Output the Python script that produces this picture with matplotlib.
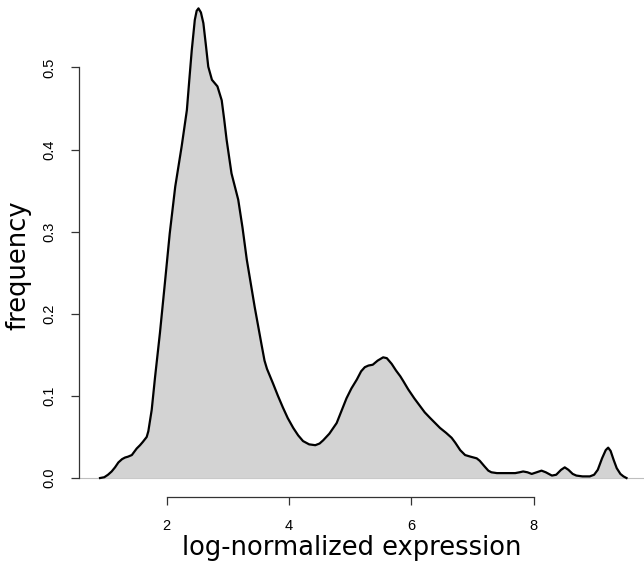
import matplotlib.pyplot as plt

# density curve (x = log-normalized expression, y = density)
xs = [0.91, 0.98, 1.04, 1.10, 1.155, 1.21, 1.27, 1.32, 1.367, 1.43, 1.47, 1.51, 1.564,
      1.61, 1.673, 1.70, 1.755, 1.81, 1.85, 1.89, 1.97, 2.05, 2.14, 2.245, 2.33, 2.37,
      2.41, 2.46, 2.49, 2.52, 2.56, 2.60, 2.64, 2.68, 2.74, 2.83, 2.90, 2.94, 2.98,
      3.06, 3.17, 3.24, 3.31, 3.44, 3.55, 3.60, 3.64, 3.69, 3.74, 3.82, 3.90, 3.98,
      4.07, 4.15, 4.23, 4.33, 4.43, 4.50, 4.56, 4.66, 4.78, 4.86, 4.94, 5.02, 5.11,
      5.18, 5.24, 5.30, 5.37, 5.45, 5.54, 5.60, 5.68, 5.75, 5.82, 5.87, 5.95, 6.05,
      6.14, 6.22, 6.31, 6.39, 6.47, 6.57, 6.66, 6.72, 6.80, 6.88, 6.97, 7.07, 7.12,
      7.20, 7.26, 7.31, 7.40, 7.50, 7.60, 7.70, 7.77, 7.83, 7.90, 7.97, 8.05, 8.13,
      8.20, 8.30, 8.37, 8.45, 8.51, 8.57, 8.64, 8.70, 8.80, 8.92, 8.99, 9.05, 9.12,
      9.18, 9.22, 9.26, 9.31, 9.36, 9.42, 9.47, 9.52]
ys = [0.0, 0.001, 0.004, 0.008, 0.013, 0.019, 0.023, 0.025, 0.026, 0.028, 0.032, 0.036,
      0.040, 0.044, 0.050, 0.057, 0.083, 0.123, 0.150, 0.177, 0.237, 0.298, 0.355,
      0.404, 0.448, 0.485, 0.521, 0.558, 0.569, 0.572, 0.567, 0.554, 0.528, 0.501,
      0.485, 0.477, 0.460, 0.437, 0.412, 0.371, 0.339, 0.305, 0.266, 0.208, 0.163,
      0.143, 0.133, 0.124, 0.115, 0.100, 0.086, 0.073, 0.061, 0.052, 0.045, 0.041,
      0.040, 0.042, 0.046, 0.054, 0.067, 0.082, 0.097, 0.109, 0.120, 0.130, 0.135,
      0.137, 0.138, 0.143, 0.147, 0.146, 0.139, 0.131, 0.124, 0.118, 0.108, 0.097,
      0.088, 0.080, 0.073, 0.067, 0.061, 0.055, 0.049, 0.043, 0.034, 0.028, 0.026,
      0.024, 0.021, 0.014, 0.009, 0.007, 0.006, 0.006, 0.006, 0.006, 0.007, 0.008,
      0.007, 0.005, 0.007, 0.009, 0.007, 0.003, 0.004, 0.010, 0.013, 0.010, 0.005,
      0.003, 0.002, 0.002, 0.004, 0.010, 0.024, 0.034, 0.037, 0.033, 0.022, 0.012,
      0.005, 0.002, 0.0]

xticks = [2, 4, 6, 8]
yticks = [0.0, 0.1, 0.2, 0.3, 0.4, 0.5]

W, H = 644, 564
fig = plt.figure(figsize=(W / 100, H / 100), dpi=100)
ax = fig.add_axes([79 / W, (H - 497) / H, 565 / W, 497 / H])

ax.axhline(0, color='#bebebe', lw=0.8, zorder=1)
ax.fill_between(xs, ys, 0, color='#d3d3d3', lw=0, zorder=2)
ax.plot(xs, ys, color='black', lw=1.6, zorder=3, solid_joinstyle='round')

ax.set_xlim(0.566, 9.806)
ax.set_ylim(-0.0231, 0.5822)

for s in ['top', 'right']:
    ax.spines[s].set_visible(False)
ax.spines['left'].set_bounds(0, 0.5)
ax.spines['bottom'].set_bounds(2, 8)
for s in ['left', 'bottom']:
    ax.spines[s].set_color('#333333')
    ax.spines[s].set_linewidth(0.9)

ax.set_xticks(xticks)
ax.set_xticklabels([str(t) for t in xticks], fontfamily='Liberation Sans', fontsize=10.5)
ax.set_yticks(yticks)
ax.set_yticklabels(['%.1f' % t for t in yticks], fontfamily='Liberation Sans',
                   fontsize=10.5, rotation=90, va='center')
ax.tick_params(length=6, width=0.9, color='#333333', pad=10)

fig.text(352 / W, 1 - 548 / H, 'log-normalized expression', ha='center', va='center',
         fontsize=18.5, fontfamily='DejaVu Sans')
fig.text(18 / W, 1 - 265 / H, 'frequency', ha='center', va='center', rotation=90,
         fontsize=18.5, fontfamily='DejaVu Sans')

fig.savefig('out.png', dpi=100)
